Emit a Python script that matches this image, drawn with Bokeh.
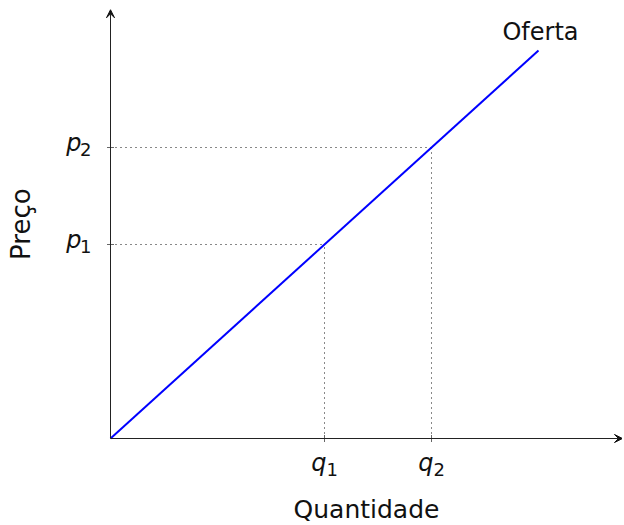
import math
from bokeh.plotting import figure
from bokeh.models import Arrow, VeeHead, Range1d
from bokeh.core.properties import value
from bokeh.embed import file_html
from bokeh.resources import INLINE

# ---- data ----
supply_q = [0, 4]          # quantity along the supply curve
supply_p = [0, 4]          # price along the supply curve
q_vals = [2, 3]            # q1, q2
p_vals = [2, 3]            # p1, p2
q_names = ["q", "q"]
p_names = ["p", "p"]
subs = ["1", "2"]
curve_label = ["Oferta"]
x_title = "Quantidade"
y_title = "Preço"

# axis extents (data units)
x_axis_end = 4.785
y_axis_end = 4.42

FONT = value("DejaVu Sans")
W, H = 622, 524
X0, Y0, SX, SY = 110, 438, 107, 97   # origin pixel and pixels per unit

p = figure(width=W, height=H, output_backend="svg", toolbar_location=None,
           x_axis_location=None, y_axis_location=None,
           x_range=Range1d(-X0 / SX, (W - X0) / SX),
           y_range=Range1d(-(H - Y0) / SY, Y0 / SY),
           min_border=0, min_border_left=0, min_border_right=0,
           min_border_top=0, min_border_bottom=0)
p.outline_line_color = None
p.grid.visible = False
p.background_fill_color = "white"
p.border_fill_color = "white"

# dotted guide lines
for q, pr in zip(q_vals, p_vals):
    p.line([q, q], [0, pr], line_color="#111111", line_width=1, line_dash="1 4")
    p.line([0, q], [pr, pr], line_color="#111111", line_width=1, line_dash="1 4")

# axes with arrows
p.add_layout(Arrow(x_start=0, y_start=0, x_end=x_axis_end, y_end=0,
                   line_color="#222222", line_width=1,
                   end=VeeHead(size=8, fill_color="#111111", line_color="#111111", line_width=1)))
p.add_layout(Arrow(x_start=0, y_start=0, x_end=0, y_end=y_axis_end,
                   line_color="#222222", line_width=1,
                   end=VeeHead(size=8, fill_color="#111111", line_color="#111111", line_width=1)))

# tick marks
p.scatter(x=q_vals, y=[0] * len(q_vals), marker="dash", size=7, angle=math.pi / 2,
          line_color="#666666", line_width=1)
p.scatter(x=[0] * len(p_vals), y=p_vals, marker="dash", size=7,
          line_color="#666666", line_width=1)

# supply curve
p.line(supply_q, supply_p, line_color="#0000ff", line_width=2)

# curve label
p.text(x=[supply_q[-1]], y=[supply_p[-1]], text=curve_label, text_font=FONT,
       text_font_size="24px", text_align="center", text_baseline="alphabetic",
       x_offset=2, y_offset=-19, text_color="#111111")

# q tick labels
p.text(x=q_vals, y=[0] * len(q_vals), text=q_names, text_font=FONT,
       text_font_size="24px", text_font_style="italic", text_align="right",
       text_baseline="alphabetic", x_offset=2, y_offset=24, text_color="#111111")
p.text(x=q_vals, y=[0] * len(q_vals), text=subs, text_font=FONT,
       text_font_size="18px", text_align="left",
       text_baseline="alphabetic", x_offset=2, y_offset=31, text_color="#111111")

# p tick labels
p.text(x=[0] * len(p_vals), y=p_vals, text=p_names, text_font=FONT,
       text_font_size="24px", text_font_style="italic", text_align="right",
       text_baseline="alphabetic", x_offset=-29, y_offset=-5, text_color="#111111")
p.text(x=[0] * len(p_vals), y=p_vals, text=subs, text_font=FONT,
       text_font_size="18px", text_align="right",
       text_baseline="alphabetic", x_offset=-19, y_offset=1.5, text_color="#111111")

# axis titles
p.text(x=[x_axis_end / 2], y=[0], text=[x_title], text_font=FONT,
       text_font_size="25px", text_align="center", text_baseline="alphabetic",
       y_offset=71, text_color="#111111")
p.text(x=[0], y=[y_axis_end / 2], text=[y_title], text_font=FONT,
       text_font_size="26px", text_align="center", text_baseline="alphabetic",
       angle=math.pi / 2, x_offset=-90, text_color="#111111")

open("out.html", "w").write(file_html(p, INLINE))
